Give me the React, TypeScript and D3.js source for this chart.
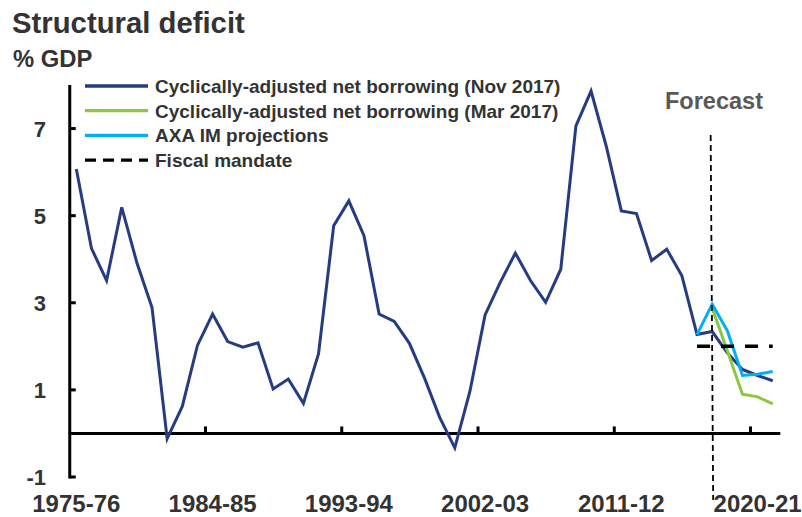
import React from "react";
import * as d3 from "d3";

const categories = [
  "1975-76","1976-77","1977-78","1978-79","1979-80","1980-81","1981-82","1982-83","1983-84","1984-85",
  "1985-86","1986-87","1987-88","1988-89","1989-90","1990-91","1991-92","1992-93","1993-94","1994-95",
  "1995-96","1996-97","1997-98","1998-99","1999-00","2000-01","2001-02","2002-03","2003-04","2004-05",
  "2005-06","2006-07","2007-08","2008-09","2009-10","2010-11","2011-12","2012-13","2013-14","2014-15",
  "2015-16","2016-17","2017-18","2018-19","2019-20","2020-21","2021-22",
];

const nov2017 = [
  6.07, 4.25, 3.51, 5.19, 3.92, 2.89, -0.12, 0.62, 2.02, 2.74,
  2.11, 1.98, 2.08, 1.02, 1.25, 0.69, 1.83, 4.77, 5.34, 4.54,
  2.74, 2.57, 2.07, 1.27, 0.37, -0.33, 0.97, 2.72, 3.47, 4.14,
  3.51, 3.01, 3.77, 7.06, 7.86, 6.6, 5.11, 5.05, 3.97, 4.23,
  3.62, 2.27, 2.34, 1.85, 1.47, 1.33, 1.21,
];

const mar2017Cats = ["2017-18", "2018-19", "2019-20", "2020-21", "2021-22"];
const mar2017 = [2.88, 1.9, 0.9, 0.84, 0.68];

const axaCats = ["2016-17", "2017-18", "2018-19", "2019-20", "2020-21", "2021-22"];
const axa = [2.27, 2.97, 2.36, 1.33, 1.36, 1.42];

const mandateCats = ["2016-17", "2021-22"];
const mandate = [2, 2];

const forecastCat = "2017-18";

const xTickLabels = ["1975-76", "1984-85", "1993-94", "2002-03", "2011-12", "2020-21"];
const xTickMarks = ["1984-85", "1993-94", "2002-03", "2011-12", "2020-21"];
const yTicks = [-1, 1, 3, 5, 7];

const legendItems = [
  { label: "Cyclically-adjusted net borrowing (Nov 2017)", color: "#263C80", dash: "" },
  { label: "Cyclically-adjusted net borrowing (Mar 2017)", color: "#8DC63F", dash: "" },
  { label: "AXA IM projections", color: "#00B0F0", dash: "" },
  { label: "Fiscal mandate", color: "#000000", dash: "11,7" },
];

const FONT = "'Liberation Sans', Arial, Helvetica, sans-serif";
const TEXT = "#333333";

export default function App() {
  const W = 802;
  const H = 517;
  const x = d3.scaleBand<string>().domain(categories).range([68.75, 780.3]).padding(0);
  const y = d3.scaleLinear().domain([-1, 8]).range([477, 85]);
  const cx = (c: string) => (x(c) as number) + x.bandwidth() / 2;

  const line = d3
    .line<[string, number]>()
    .x((d) => cx(d[0]))
    .y((d) => y(d[1]));

  const navyPath = line(categories.map((c, i) => [c, nov2017[i]] as [string, number])) || "";
  const greenPath = line(mar2017Cats.map((c, i) => [c, mar2017[i]] as [string, number])) || "";
  const bluePath = line(axaCats.map((c, i) => [c, axa[i]] as [string, number])) || "";
  const mandatePath = line(mandateCats.map((c, i) => [c, mandate[i]] as [string, number])) || "";

  const fx = cx(forecastCat);
  const axisX = x(categories[0]) as number;
  const axisEnd = (x(categories[categories.length - 1]) as number) + x.bandwidth();

  return (
    <svg
      width={W}
      height={H}
      style={{ position: "absolute", left: 0, top: 0, background: "#fff" }}
      fontFamily={FONT}
    >
      <rect x={0} y={0} width={W} height={H} fill="#fff" />
      <text x={12} y={33} fontSize={29.3} fontWeight="bold" fill={TEXT}>
        Structural deficit
      </text>
      <text x={13} y={66.5} fontSize={23.8} fontWeight="bold" fill={TEXT}>
        % GDP
      </text>

      {/* axes */}
      <line x1={axisX + 1} x2={axisX + 1} y1={y(8)} y2={y(-1) + 1.5} stroke="#000" strokeWidth={3} />
      {yTicks.map((t) => (
        <g key={t}>
          <line x1={axisX + 1} x2={axisX + 7} y1={y(t)} y2={y(t)} stroke="#000" strokeWidth={3} />
          <text
            x={46}
            y={y(t) + 8}
            textAnchor="end"
            fontSize={22}
            fontWeight="bold"
            fill={TEXT}
          >
            {t}
          </text>
        </g>
      ))}
      <line x1={axisX} x2={axisEnd} y1={y(0)} y2={y(0)} stroke="#000" strokeWidth={3} />
      {xTickMarks.map((c) => (
        <line
          key={c}
          x1={(x(c) as number) + 0.5}
          x2={(x(c) as number) + 0.5}
          y1={y(0)}
          y2={y(0) - 7}
          stroke="#000"
          strokeWidth={3}
        />
      ))}
      {xTickLabels.map((c) => (
        <text
          key={c}
          x={cx(c)}
          y={511.5}
          textAnchor="middle"
          fontSize={24}
          fontWeight="bold"
          fill={TEXT}
        >
          {c}
        </text>
      ))}

      {/* series */}
      <path d={navyPath} fill="none" stroke="#263C80" strokeWidth={3} strokeLinejoin="miter" />
      <path d={greenPath} fill="none" stroke="#8DC63F" strokeWidth={3} />
      <path d={bluePath} fill="none" stroke="#00B0F0" strokeWidth={3} />
      <path d={mandatePath} fill="none" stroke="#000" strokeWidth={3.5} strokeDasharray="13,11" />

      {/* forecast marker */}
      <line x1={fx - 1.5} x2={fx + 1} y1={135} y2={500} stroke="#000" strokeWidth={1.8} strokeDasharray="6,4" />
      <text x={665} y={109} fontSize={23.5} fontWeight="bold" fill="#595959">
        Forecast
      </text>

      {/* legend */}
      {legendItems.map((it, i) => {
        const ly = 86 + i * 24.7;
        return (
          <g key={it.label}>
            <line
              x1={85}
              x2={148}
              y1={ly}
              y2={ly}
              stroke={it.color}
              strokeWidth={3.3}
              strokeDasharray={it.dash || undefined}
            />
            <text x={155} y={ly + 6.8} fontSize={19} fontWeight="bold" fill={TEXT}>
              {it.label}
            </text>
          </g>
        );
      })}
    </svg>
  );
}
